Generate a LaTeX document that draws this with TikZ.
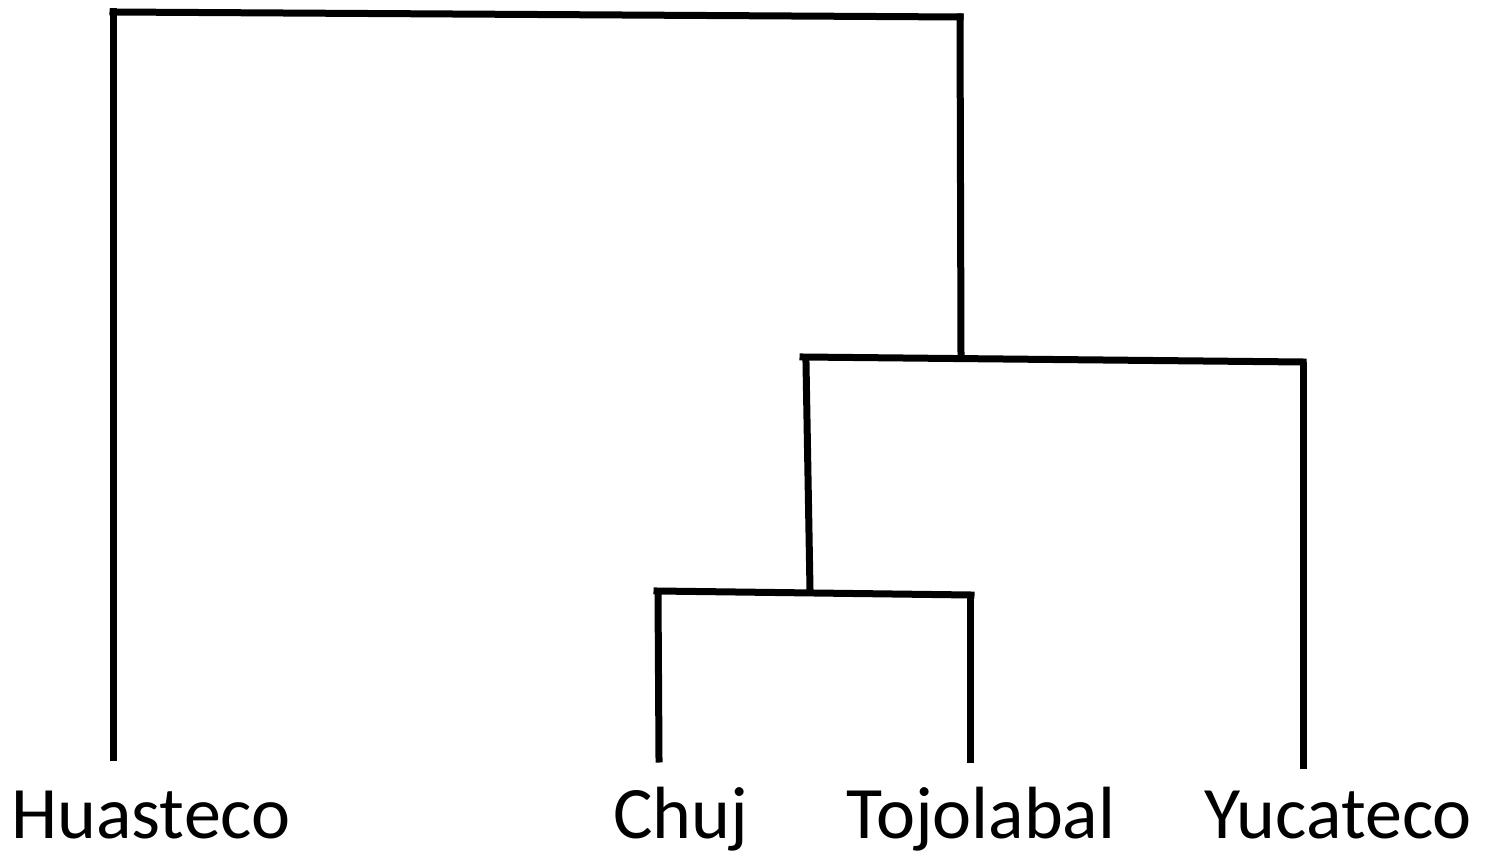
\documentclass[tikz,border=0pt]{standalone}
\usepackage{fontspec}
\setmainfont{Carlito}
\begin{document}
\begin{tikzpicture}[x=1pt,y=-1pt,
  branch/.style={line width=7pt, line cap=rect},
  leaf/.style={font=\fontsize{74}{80}\selectfont, anchor=base, inner sep=0pt}]
\useasboundingbox (0,0) rectangle (1486,858);
% junction coordinates
\coordinate (rootL) at (113,12);
\coordinate (rootR) at (960,17);
\coordinate (rootRb) at (961,356);
\coordinate (midL) at (803,357);
\coordinate (midR) at (1303,362);
\coordinate (midLt) at (806,363);
\coordinate (midLb) at (810,590);
\coordinate (lowL) at (657,591);
\coordinate (lowR) at (971,595);
\coordinate (huaTop) at (113,757);
\coordinate (chujTop) at (659,759);
\coordinate (chujT) at (658,592);
\coordinate (tojT) at (970,599);
\coordinate (tojTop) at (970,759);
\coordinate (yucT) at (1303,366);
\coordinate (yucTop) at (1303,765);
% labels
\node[leaf] (hua) at (151,838) {Huasteco};
\node[leaf] (chuj) at (681,838) {Chuj};
\node[leaf] (toj) at (981,838) {Tojolabal};
\node[leaf] (yuc) at (1338,838) {Yucateco};
% branches
\draw[branch] (rootL) -- (rootR);
\draw[branch] (rootL) -- (huaTop);
\draw[branch] (rootR) -- (rootRb);
\draw[branch] (midL) -- (midR);
\draw[branch] (midLt) -- (midLb);
\draw[branch] (yucT) -- (yucTop);
\draw[branch] (lowL) -- (lowR);
\draw[branch] (chujT) -- (chujTop);
\draw[branch] (tojT) -- (tojTop);
\end{tikzpicture}
\end{document}
